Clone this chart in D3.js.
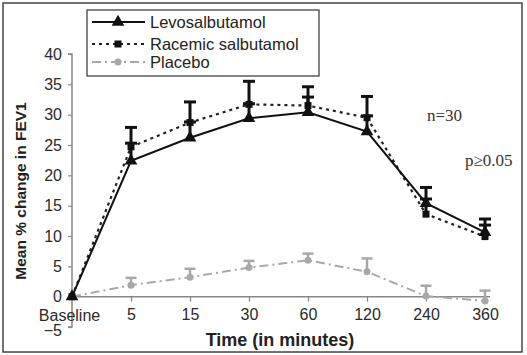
<!DOCTYPE html>
<html><head><meta charset="utf-8">
<script src="https://cdn.jsdelivr.net/npm/d3@7"></script>
<style>body{margin:0;background:#fff}svg{display:block}</style>
</head><body>
<svg id="c" width="527" height="355"></svg>
<script>
const categories = ["Baseline","5","15","30","60","120","240","360"];
const levo = [0, 22.4, 26.2, 29.4, 30.4, 27.2, 15.4, 10.6];
const levoErr = [0, 2.9, 2.6, 2.4, 2.5, 2.6, 2.6, 2.2];
const racemic = [0, 24.7, 28.7, 31.7, 31.5, 29.5, 13.6, 9.9];
const racemicErr = [0, 3.2, 3.4, 3.8, 3.1, 3.5, 2.5, 1.9];
const placebo = [0, 1.9, 3.2, 4.8, 6.0, 4.1, 0.1, -0.7];
const placeboErr = [0, 1.2, 1.4, 1.1, 1.1, 2.2, 1.7, 1.7];
const yTicks = [-5,0,5,10,15,20,25,30,35,40];

const svg = d3.select("#c");
const x0 = 72, step = 59;
const x = d3.scalePoint().domain(categories).range([x0, x0 + step*7]);
const y = d3.scaleLinear().domain([-5, 40]).range([327, 54]);
const sans = "Liberation Sans, Arial, sans-serif";

// frame
svg.append("rect").attr("x",3).attr("y",3).attr("width",519).attr("height",349)
  .attr("fill","none").attr("stroke","#444").attr("stroke-width",1.5);

// y axis
const yAxis = svg.append("g").attr("transform",`translate(${x0},0)`)
  .call(d3.axisLeft(y).tickValues(yTicks).tickSize(4).tickPadding(6).tickFormat(d3.format("d")));
yAxis.select(".domain").attr("stroke","#888").attr("stroke-width",1.5).attr("d",`M-4,${y(40)}H0V${y(-5)}H-4`);
yAxis.selectAll(".tick line").attr("stroke","#888").attr("stroke-width",1.2);
yAxis.selectAll(".tick text").attr("font-family",sans).attr("font-size",16).attr("fill","#2a2a2a");
yAxis.selectAll(".tick").filter(d=>d===-5).select("text").attr("dy","0.5em");

// x axis at y=0
const xAxis = svg.append("g").attr("transform",`translate(0,${y(0)})`)
  .call(d3.axisBottom(x).tickSize(5).tickPadding(7));
xAxis.select(".domain").attr("stroke","#888").attr("stroke-width",1.5).attr("d",`M${x0},0H${x0+step*7+5}`);
xAxis.selectAll(".tick line").attr("stroke","#888").attr("stroke-width",1.2);
xAxis.selectAll(".tick text").attr("font-family",sans).attr("font-size",16).attr("fill","#2a2a2a");
xAxis.selectAll(".tick").filter(d=>d==="Baseline").select("line").remove();
xAxis.selectAll(".tick").filter(d=>d==="Baseline").select("text").attr("dx",-3).attr("dy","0.78em");

// axis titles
svg.append("text").attr("x",280).attr("y",346).attr("text-anchor","middle")
  .attr("font-family",sans).attr("font-weight","bold").attr("font-size",18).attr("fill","#222")
  .text("Time (in minutes)");
svg.append("text").attr("transform","translate(26,191) rotate(-90)").attr("text-anchor","middle")
  .attr("font-family",sans).attr("font-weight","bold").attr("font-size",15.5).attr("fill","#222")
  .text("Mean % change in FEV1");

// annotations
svg.append("text").attr("x",427).attr("y",121).attr("font-family","Liberation Serif, Times New Roman, serif").attr("font-size",17).attr("fill","#333").text("n=30");
svg.append("text").attr("x",465).attr("y",166).attr("font-family","Liberation Serif, Times New Roman, serif").attr("font-size",17).attr("fill","#333").text("p\u22650.05");

const idx = d3.range(categories.length);
const line = vals => d3.line().x(i=>x(categories[i])).y(i=>y(vals[i]))(idx);

function errorBars(vals, errs, color, w, capW){
  const g = svg.append("g");
  idx.filter(i=>errs[i]>0).forEach(i=>{
    const cx = x(categories[i]);
    g.append("line").attr("x1",cx).attr("x2",cx).attr("y1",y(vals[i])).attr("y2",y(vals[i]+errs[i]))
      .attr("stroke",color).attr("stroke-width",w);
    g.append("line").attr("x1",cx-capW/2).attr("x2",cx+capW/2).attr("y1",y(vals[i]+errs[i])).attr("y2",y(vals[i]+errs[i]))
      .attr("stroke",color).attr("stroke-width",w);
  });
}

// placebo
svg.append("path").attr("d",line(placebo)).attr("fill","none").attr("stroke","#a8a8a8").attr("stroke-width",2).attr("stroke-dasharray","9,4,2,4");
errorBars(placebo, placeboErr, "#a8a8a8", 2.5, 11);
svg.append("g").selectAll("circle").data(idx).join("circle")
  .attr("cx",i=>x(categories[i])).attr("cy",i=>y(placebo[i])).attr("r",3.5).attr("fill","#a8a8a8");

// racemic
svg.append("path").attr("d",line(racemic)).attr("fill","none").attr("stroke","#222").attr("stroke-width",2.2).attr("stroke-dasharray","3,4");
errorBars(racemic, racemicErr, "#111", 3, 12);
svg.append("g").selectAll("rect").data(idx).join("rect")
  .attr("x",i=>x(categories[i])-3.5).attr("y",i=>y(racemic[i])-3.5).attr("width",7).attr("height",7).attr("fill","#111");

// levo
svg.append("path").attr("d",line(levo)).attr("fill","none").attr("stroke","#111").attr("stroke-width",2);
errorBars(levo, levoErr, "#111", 3, 12);
const tri = d3.symbol().type(d3.symbolTriangle).size(70);
svg.append("g").selectAll("path").data(idx).join("path")
  .attr("transform",i=>`translate(${x(categories[i])},${y(levo[i])})`).attr("d",tri).attr("fill","#111");

// legend
const lg = svg.append("g");
lg.append("rect").attr("x",87).attr("y",10).attr("width",232).attr("height",66).attr("fill","#fff").attr("stroke","#333").attr("stroke-width",1.2);
const legendItems = [
  {name:"Levosalbutamol", y:22, stroke:"#111", dash:null, w:2, mark:"tri"},
  {name:"Racemic salbutamol", y:44, stroke:"#222", dash:"3,4", w:2.2, mark:"sq"},
  {name:"Placebo", y:62, stroke:"#a8a8a8", dash:"9,4,2,4", w:2, mark:"circ"}
];
legendItems.forEach(it=>{
  lg.append("line").attr("x1",92).attr("x2",145).attr("y1",it.y).attr("y2",it.y)
    .attr("stroke",it.stroke).attr("stroke-width",it.w).attr("stroke-dasharray",it.dash);
  if(it.mark==="tri") lg.append("path").attr("transform",`translate(118,${it.y})`).attr("d",tri).attr("fill","#111");
  if(it.mark==="sq") lg.append("rect").attr("x",114.5).attr("y",it.y-3.5).attr("width",7).attr("height",7).attr("fill","#111");
  if(it.mark==="circ") lg.append("circle").attr("cx",118).attr("cy",it.y).attr("r",3.5).attr("fill","#a8a8a8");
  lg.append("text").attr("x",150).attr("y",it.y+6).attr("font-family",sans).attr("font-size",16.5).attr("fill","#222").text(it.name);
});
</script>
</body></html>
